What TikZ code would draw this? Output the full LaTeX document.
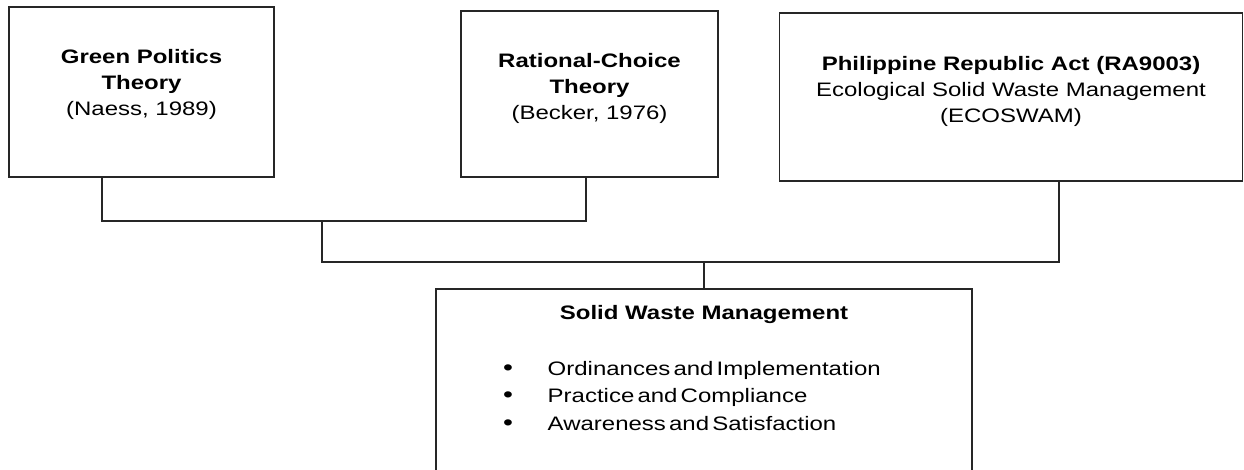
\documentclass[tikz,border=0pt]{standalone}
\usepackage{fontspec}
\setmainfont{Liberation Sans}[FakeStretch=1.23]
% list bullet, a little larger than the running text, with tight word spaces after it
\newcommand{\listdot}{\spaceskip=3.2pt\relax\makebox[44.5pt][l]{\fontsize{23}{23}\selectfont•}}
\begin{document}
\begin{tikzpicture}[x=1pt,y=-1pt,
  frame/.style={draw=black!85,line width=1.4pt,rectangle,inner sep=0pt},
  txt/.style={inner sep=0pt,align=center,anchor=base,font=\fontsize{19.5}{26}\selectfont},
  link/.style={draw=black!85,line width=1.4pt}]
\useasboundingbox (0,0) rectangle (1244,470);
% source boxes
\node[frame,minimum width=265pt,minimum height=170pt] (b1) at (141.5,92) {};
\node[frame,minimum width=257pt,minimum height=166pt] (b2) at (589.5,94) {};
\node[frame,minimum width=463pt,minimum height=168pt] (b3) at (1011,97) {};
% target box (runs past the lower edge)
\node[frame,minimum width=536pt,minimum height=200pt] (b4) at (704,389) {};
% box texts, placed by the baseline of their last line
\node[txt] (t1) at (141.5,116) {\textbf{Green Politics}\\\textbf{Theory}\\(Naess, 1989)};
\node[txt] (t2) at (589.5,120) {\textbf{Rational-Choice}\\\textbf{Theory}\\(Becker, 1976)};
\node[txt] (t3) at (1011,123) {\textbf{Philippine Republic Act (RA9003)}\\Ecological Solid Waste Management\\(ECOSWAM)};
\node[txt] (t4) at (704,319) {\textbf{Solid Waste Management}};
\node[inner sep=0pt,align=left,anchor=base west,font=\fontsize{19.5}{27.5}\selectfont] (t5) at (503,430)
  {\listdot Ordinances and Implementation\\
   \listdot Practice and Compliance\\
   \listdot Awareness and Satisfaction};
% connector junctions
\coordinate (j1) at (102,221);
\coordinate (j2) at (586,221);
\coordinate (m1) at (322,221);
\coordinate (m2) at (322,262);
\coordinate (j3) at (1059,262);
\coordinate (m3) at (704,262);
\draw[link] (b1.south -| j1) -- (j1) -- (j2) -- (b2.south -| j2);
\draw[link] (m1) -- (m2) -- (j3) -- (b3.south -| j3);
\draw[link] (m3) -- (b4.north);
\end{tikzpicture}
\end{document}
